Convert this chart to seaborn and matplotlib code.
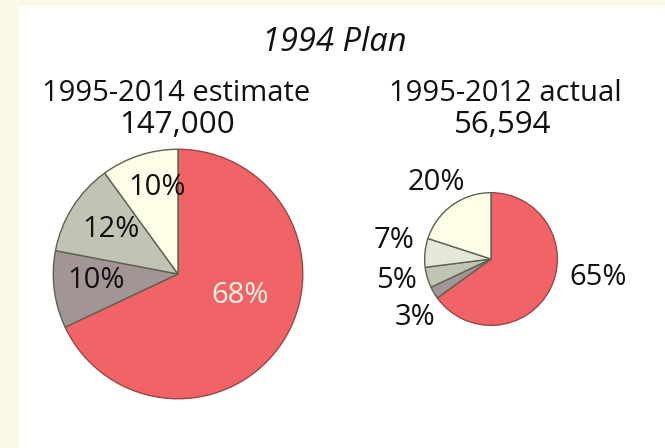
import matplotlib
matplotlib.use("Agg")
import matplotlib.pyplot as plt
import seaborn as sns
from matplotlib.patches import Rectangle

sns.set_theme(style="white")
plt.rcParams['font.family'] = ['Open Sans', 'DejaVu Sans']

# ---- data ----
title = "1994 Plan"
left_title = "1995-2014 estimate"
left_total = "147,000"
right_title = "1995-2012 actual"
right_total = "56,594"
left_values = [68, 10, 12, 10]
right_values = [65, 3, 5, 7, 20]
left_colors = ["#f06468", "#a39595", "#c2c3b5", "#fdfde8"]
right_colors = ["#f06468", "#a39595", "#c2c3b5", "#e3e8d9", "#fdfde8"]

W, H = 665, 448
fig = plt.figure(figsize=(W / 100, H / 100), dpi=100)
fig.patch.set_facecolor("#fafae6")
fig.patches.append(Rectangle((19 / W, 0), 1 - 19 / W, 1 - 6 / H,
                             transform=fig.transFigure, facecolor="white",
                             edgecolor="none", zorder=-10))


def px(x, y):
    return x / W, 1 - y / H


def add_pie(cx, cy, r, values, colors):
    ax = fig.add_axes([(cx - r) / W, (H - cy - r) / H, 2 * r / W, 2 * r / H])
    wedges, _ = ax.pie(values, colors=colors, startangle=90, counterclock=False,
                       radius=1, wedgeprops=dict(edgecolor="#5a6352", linewidth=1.0))
    wedges[0].set_edgecolor("#9a4548")
    wedges[0].set_zorder(0.5)
    ax.set_xlim(-1.01, 1.01)
    ax.set_ylim(-1.01, 1.01)
    ax.set_aspect("equal")
    ax.axis("off")
    ax.patch.set_alpha(0)
    return ax


add_pie(178, 274, 126, left_values, left_colors)
add_pie(491, 259, 67, right_values, right_colors)

fs = 21
tc = "#111111"
fw = "medium"
fig.text(*px(334, 51), title, ha="center", va="baseline", fontsize=23.5,
         style="italic", color=tc, fontweight=fw)
fig.text(*px(176, 101), left_title, ha="center", va="baseline", fontsize=fs, color=tc, fontweight=fw)
fig.text(*px(177, 133), left_total, ha="center", va="baseline", fontsize=22.5, color=tc, fontweight=fw)
fig.text(*px(505, 101), right_title, ha="center", va="baseline", fontsize=fs, color=tc, fontweight=fw)
fig.text(*px(503, 133), right_total, ha="center", va="baseline", fontsize=22.5, color=tc, fontweight=fw)

left_label_pos = [(240, 303), (96, 288), (111, 237), (157, 195)]
left_label_colors = ["#fdf2e4", tc, tc, tc]
for v, (x, y), c in zip(left_values, left_label_pos, left_label_colors):
    fig.text(*px(x, y), f"{v}%", ha="center", va="baseline", fontsize=fs, color=c,
             zorder=5, fontweight=fw)

right_label_pos = [(598, 285), (415, 325), (397, 288), (394, 248), (436, 190)]
for v, (x, y) in zip(right_values, right_label_pos):
    fig.text(*px(x, y), f"{v}%", ha="center", va="baseline", fontsize=fs, color=tc,
             zorder=5, fontweight=fw)

fig.savefig("out.png", dpi=100, facecolor=fig.get_facecolor())
